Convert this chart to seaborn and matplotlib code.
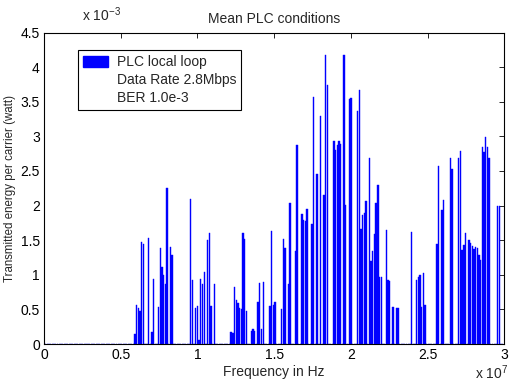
import numpy as np
import pandas as pd
import matplotlib
matplotlib.use("Agg")
import matplotlib.pyplot as plt
import seaborn as sns
from matplotlib.patches import Patch
from matplotlib.lines import Line2D
from matplotlib.ticker import FuncFormatter, MultipleLocator

# ---- data ----
n_carriers = 273
band_hz = 30e6
carrier_idx = [54, 55, 56, 57, 58, 59, 62, 64, 65, 68, 69, 70, 71, 72, 73, 75, 76,
               87, 88, 90, 91, 92, 93, 94, 95, 97, 98, 99, 101,
               111, 112, 113, 114, 115, 116, 117, 118, 119, 120,
               123, 124, 125, 127, 128, 129, 130, 134, 135, 136, 137,
               141, 142, 143, 145, 146, 149, 150, 153, 154, 155, 156, 159, 160,
               162, 164, 166, 167, 168,
               172, 173, 174, 175, 176, 178, 179, 181, 182, 186, 187, 188, 189, 190, 191,
               193, 194, 195, 196, 197, 198, 199, 200, 203, 204, 205, 207, 209, 210, 218,
               221, 222, 223, 224, 225, 226, 233, 234, 236, 237, 241, 242,
               246, 247, 248, 249, 250,
               252, 253, 254, 255, 256, 257, 258, 259, 260, 261, 262, 263, 264, 269, 270]
energy_mw = [0.15, 0.57, 0.52, 0.47, 1.47, 1.45, 1.53, 0.17, 0.94, 0.53, 1.39, 1.11, 1.00, 0.87, 2.26, 1.40, 1.29,
             2.10, 0.92, 0.52, 0.55, 0.06, 0.94, 0.87, 1.04, 1.50, 1.60, 0.55, 0.87,
             0.18, 0.16, 0.83, 0.64, 0.59, 0.52, 0.50, 1.60, 1.52, 0.48,
             0.19, 0.21, 0.19, 0.60, 0.88, 0.21, 0.90, 0.55, 1.63, 0.56, 0.60,
             0.51, 1.52, 1.38, 0.87, 2.04, 1.35, 2.88, 1.88, 1.79, 1.78, 1.95, 1.73, 3.57,
             2.45, 3.29, 2.15, 4.17, 3.74,
             2.93, 2.80, 2.88, 2.93, 2.89, 4.17, 2.01, 3.54, 3.55, 3.37, 3.67, 1.66, 1.86, 1.89, 2.07,
             2.69, 1.20, 1.35, 1.59, 2.04, 2.30, 0.97, 0.97, 1.64, 0.92, 0.91, 0.53, 0.52, 0.52, 1.62,
             0.92, 0.97, 0.99, 0.54, 1.02, 0.56, 1.45, 2.57, 1.94, 2.08, 2.68, 2.53,
             2.69, 2.79, 1.36, 1.43, 1.60,
             1.50, 1.46, 1.42, 1.37, 1.40, 1.38, 1.29, 1.21, 2.84, 2.77, 2.99, 2.84, 2.68, 2.00, 2.00]
x_ticks = [0, 0.5e7, 1e7, 1.5e7, 2e7, 2.5e7, 3e7]
legend_labels = ["PLC local loop", "Data Rate 2.8Mbps", "BER 1.0e-3"]

# ---- build table ----
freq = np.arange(n_carriers) * band_hz / n_carriers
energy = np.zeros(n_carriers)
energy[np.array(carrier_idx)] = np.array(energy_mw) * 1e-3
df = pd.DataFrame({"freq": freq, "energy": energy})

sns.set_style("white")
plt.rcParams["font.family"] = ["Liberation Sans", "DejaVu Sans"]
plt.rcParams["mathtext.fontset"] = "custom"
plt.rcParams["mathtext.rm"] = "Liberation Sans"
plt.rcParams["mathtext.it"] = "Liberation Sans"

fig = plt.figure(figsize=(5.12, 3.81), dpi=100)
ax = fig.add_axes([44 / 512, 37 / 381, 460.3 / 512, 311.5 / 381])

sns.barplot(data=df, x="freq", y="energy", native_scale=True, width=0.8,
            color="#0000ff", saturation=1, errorbar=None,
            edgecolor="#0000ff", linewidth=0.3, ax=ax)

ax.set_xlim(0, 3e7)
ax.set_ylim(0, 4.5e-3)
ax.set_xticks(x_ticks)
ax.yaxis.set_major_locator(MultipleLocator(0.5e-3))
ax.xaxis.set_major_formatter(FuncFormatter(lambda v, p: f"{v / 1e7:g}"))
ax.yaxis.set_major_formatter(FuncFormatter(lambda v, p: f"{v * 1e3:g}"))
ax.tick_params(direction="in", top=True, right=True, length=3.6, width=0.6,
               labelsize=10, colors="black", pad=3)
for s in ax.spines.values():
    s.set_visible(True)
    s.set_color("black")
    s.set_linewidth(0.8)

ax.set_title("Mean PLC conditions", fontsize=10, pad=7)
ax.set_xlabel("Frequency in Hz", fontsize=10, labelpad=2)
ax.set_ylabel("Transmitted energy per carrier (watt)", fontsize=8.3, labelpad=3)

fig.text(82 / 512, 1 - 21 / 381, r"x 10$^{-3}$", fontsize=10, va="baseline", ha="left")
fig.text(475 / 512, 1 - 379 / 381, r"x 10$^{7}$", fontsize=10, va="baseline", ha="left")

handles = [Patch(facecolor="#0000ff", edgecolor="#0000ff"),
           Line2D([], [], linestyle="none"),
           Line2D([], [], linestyle="none")]
leg = ax.legend(handles, legend_labels, loc="upper left",
                bbox_to_anchor=(34 / 460.3, (344 - 50) / 311.5), borderaxespad=0,
                fontsize=10, frameon=True, fancybox=False, framealpha=1,
                edgecolor="black", handlelength=1.8, handleheight=0.85,
                handletextpad=0.65, borderpad=0.35, labelspacing=0.3)
leg.get_frame().set_linewidth(0.8)

fig.savefig("out.png", dpi=100)
